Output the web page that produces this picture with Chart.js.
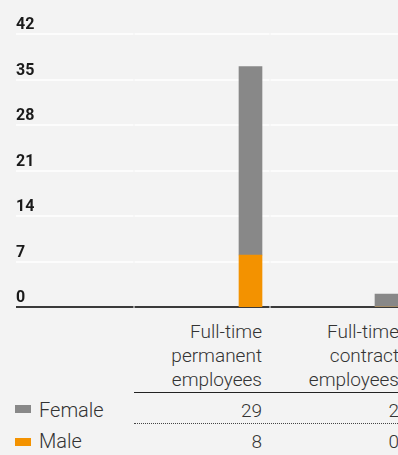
<!DOCTYPE html>
<html>
<head>
<meta charset="utf-8">
<script src="https://cdn.jsdelivr.net/npm/chart.js@4/dist/chart.umd.min.js"></script>
<style>
  html, body { margin: 0; padding: 0; background: #f3f3f3; width: 398px; height: 455px; overflow: hidden; }
  body { position: relative; font-family: Roboto, "Liberation Sans", sans-serif; color: #333; }
  #wrap { position: absolute; left: 0; top: 0; width: 398px; height: 320px; overflow: hidden; }
  #wrap canvas { position: absolute; left: 0; top: 0; }
  .hdr { position: absolute; top: 319.5px; width: 200px; text-align: right; font-size: 19px; font-weight: 300; line-height: 24px; white-space: nowrap; }
  .row { position: absolute; font-size: 20px; font-weight: 300; line-height: 24px; white-space: nowrap; }
  .val { text-align: right; width: 100px; font-size: 19px; }
  .sw { position: absolute; left: 15px; width: 16px; height: 8px; }
  .hline { position: absolute; left: 134px; width: 264px; height: 0; }
</style>
</head>
<body>
<div id="wrap"><canvas id="c" width="455" height="320"></canvas></div>
<div id="table"></div>
<script>
const categories = ["", "Full-time permanent employees", "Full-time contract employees"];
const headerLines = [[], ["Full-time", "permanent", "employees"], ["Full-time", "contract", "employees"]];
const seriesNames = ["Female", "Male"];
const femaleValues = [null, 29, 2];
const maleValues = [null, 8, 0];
const yTicks = [0, 7, 14, 21, 28, 35, 42];
const colors = { Female: "#888888", Male: "#f39200" };

const AXIS_LEFT = 16;

const gridPlugin = {
  id: 'segGrid',
  beforeDatasetsDraw(chart) {
    const ctx = chart.ctx, x = chart.scales.x, y = chart.scales.y;
    const b1 = x.getPixelForValue(0) + 19.5, b2 = x.getPixelForValue(1) + 19.5;
    const end = Math.min(chart.width, x.getPixelForValue(2) + 19.5);
    const segs = [[AXIS_LEFT, b1 - 0.5], [b1 + 0.5, b2 - 0.5], [b2 + 0.5, end]];
    ctx.save();
    y.ticks.forEach(t => {
      const py = Math.round(y.getPixelForValue(t.value));
      ctx.strokeStyle = t.value === 0 ? '#3a3a3a' : '#fcfcfc';
      ctx.lineWidth = 2;
      segs.forEach(([a, b]) => {
        ctx.beginPath();
        ctx.moveTo(a, py);
        ctx.lineTo(b, py);
        ctx.stroke();
      });
    });
    ctx.restore();
  },
  afterDraw(chart) {
    const ctx = chart.ctx, y = chart.scales.y;
    ctx.save();
    ctx.fillStyle = '#1a1a1a';
    ctx.font = 'bold 16px Roboto';
    ctx.textAlign = 'left';
    ctx.textBaseline = 'alphabetic';
    y.ticks.forEach(t => {
      const py = Math.round(y.getPixelForValue(t.value));
      ctx.fillText(t.label, AXIS_LEFT, py - 5);
    });
    ctx.restore();
  }
};

new Chart(document.getElementById('c'), {
  type: 'bar',
  data: {
    labels: categories,
    datasets: [
      { label: seriesNames[1], data: maleValues, backgroundColor: colors.Male, barThickness: 23, borderWidth: 0 },
      { label: seriesNames[0], data: femaleValues, backgroundColor: colors.Female, barThickness: 23, borderWidth: 0 }
    ]
  },
  options: {
    responsive: false,
    animation: false,
    layout: { padding: { left: 46.5, right: 0.5, top: 34, bottom: 13 } },
    plugins: { legend: { display: false }, tooltip: { enabled: false } },
    scales: {
      x: { type: 'category', stacked: true, offset: true, display: false },
      y: {
        stacked: true, min: 0, max: 42,
        afterBuildTicks: s => { s.ticks = yTicks.map(v => ({ value: v })); },
        grid: { display: false, drawTicks: false },
        border: { display: false },
        ticks: { mirror: true, display: false, padding: 0 }
      }
    }
  },
  plugins: [gridPlugin]
});

// table below the chart
const tbl = document.getElementById('table');
const colRight = [0, 262, 399];
categories.forEach((c, i) => {
  if (!headerLines[i].length) return;
  const d = document.createElement('div');
  d.className = 'hdr';
  d.style.left = (colRight[i] - 200) + 'px';
  d.innerHTML = headerLines[i].join('<br>');
  tbl.appendChild(d);
});
const hl = document.createElement('div');
hl.className = 'hline'; hl.style.top = '391.5px'; hl.style.borderTop = '1.5px solid #222';
tbl.appendChild(hl);
const dl = document.createElement('div');
dl.className = 'hline'; dl.style.top = '423px'; dl.style.borderTop = '1.5px dotted #444';
tbl.appendChild(dl);

const rows = [
  { name: seriesNames[0], vals: femaleValues, top: 398.5, sw: 405 },
  { name: seriesNames[1], vals: maleValues, top: 430, sw: 438 }
];
rows.forEach(r => {
  const s = document.createElement('div');
  s.className = 'sw'; s.style.top = r.sw + 'px'; s.style.background = colors[r.name];
  tbl.appendChild(s);
  const n = document.createElement('div');
  n.className = 'row'; n.style.left = '39px'; n.style.top = (r.top - 1) + 'px'; n.textContent = r.name;
  tbl.appendChild(n);
  r.vals.forEach((v, i) => {
    if (v === null) return;
    const e = document.createElement('div');
    e.className = 'row val'; e.style.left = (colRight[i] - 100) + 'px'; e.style.top = r.top + 'px';
    e.textContent = v;
    tbl.appendChild(e);
  });
});
</script>
</body>
</html>
